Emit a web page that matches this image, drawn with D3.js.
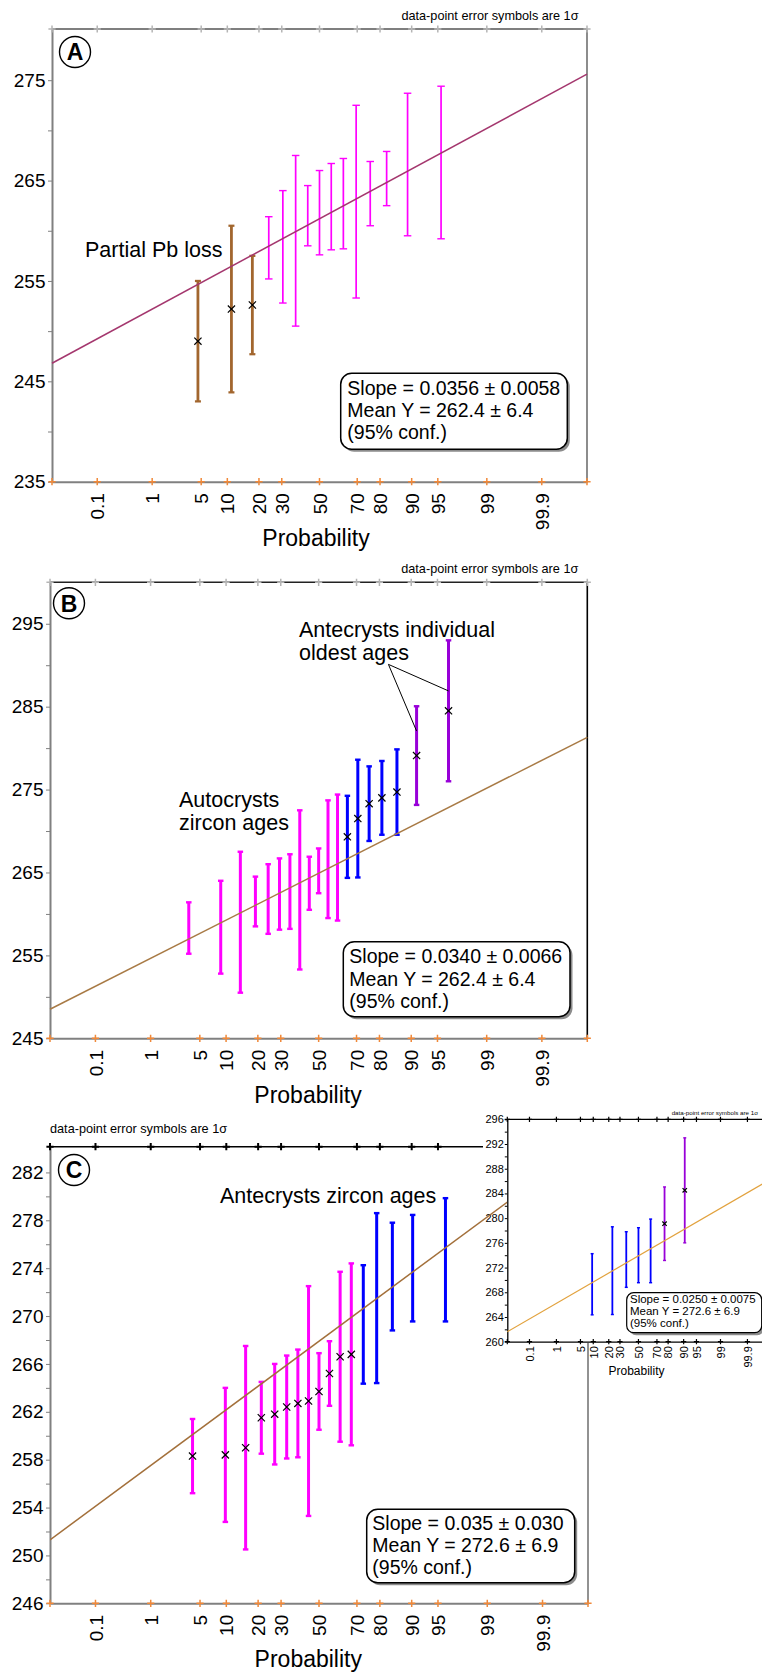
<!DOCTYPE html>
<html>
<head>
<meta charset="utf-8">
<script src="https://cdn.jsdelivr.net/npm/d3@7"></script>
<style>
  body { margin: 0; background: #fff; }
  svg { display: block; font-family: "Liberation Sans", Arial, Helvetica, sans-serif; }
</style>
</head>
<body>
<svg id="chart" width="762" height="1673"></svg>
<script>
// probability axis (%), ticks and plotted extent
const probTicks = [0.1, 1, 5, 10, 20, 30, 50, 70, 80, 90, 95, 99, 99.9];
const probEnds = [0.01, 99.99];

// zircon ages (Ma) with 1 sigma errors
const pbLossAge = [249.0, 252.2, 252.6];
const pbLossErr = [6.0, 8.3, 4.9];
const autoAge = [258.3, 258.4, 259.0, 261.5, 261.8, 262.4, 262.7, 262.9, 263.7, 265.2, 266.6, 266.8];
const autoErr = [3.1, 5.6, 8.5, 3.0, 4.2, 4.3, 4.5, 9.6, 3.2, 2.7, 7.1, 7.6];
const anteAge = [269.3, 271.5, 273.3, 274.0, 274.7];
const anteErr = [4.95, 7.1, 4.5, 4.45, 5.15];
const oldAge = [279.1, 284.5];
const oldErr = [5.95, 8.5];

// cumulative probability plotting positions (%)
const probA = [4.55, 11.04, 17.53, 24.03, 30.52, 37.01, 43.51, 50.0, 56.49, 62.99, 69.48, 75.97, 82.47, 88.96, 95.45];
const probB = [3.61, 8.76, 13.92, 19.07, 24.23, 29.38, 34.54, 39.69, 44.85, 50.0, 55.15, 60.31, 65.46, 70.62, 75.77, 80.93, 86.08, 91.24, 96.39];
const probC = [4.02, 9.77, 15.52, 21.26, 27.01, 32.76, 38.51, 44.25, 50.0, 55.75, 61.49, 67.24, 72.99, 78.74, 84.48, 90.23, 95.98];
const probInset = [9.46, 22.97, 36.49, 50.0, 63.51, 77.03, 90.54];

// regression line ages at the 0.01% and 99.99% ends
const fitA = [246.8, 275.6];
const fitB = [248.5, 281.3];
const fitC = [251.3, 284.5];
const fitInset = [261.6, 286.2];

const statsA = ["Slope = 0.0356 \u00b1 0.0058", "Mean Y = 262.4 \u00b1 6.4", "(95% conf.)"];
const statsB = ["Slope = 0.0340 \u00b1 0.0066", "Mean Y = 262.4 \u00b1 6.4", "(95% conf.)"];
const statsC = ["Slope = 0.035 \u00b1 0.030", "Mean Y = 272.6 \u00b1 6.9", "(95% conf.)"];
const statsInset = ["Slope = 0.0250 \u00b1 0.0075", "Mean Y = 272.6 \u00b1 6.9", "(95% conf.)"];

const MAGENTA = "#ff00ff", BLUE = "#0000ff", PURPLE = "#9800d8", BROWN = "#a2662e";
const NOTE = "data-point error symbols are 1\u03c3";

// inverse normal CDF (Acklam)
function probit(p) {
  const a = [-3.969683028665376e+01, 2.209460984245205e+02, -2.759285104469687e+02, 1.383577518672690e+02, -3.066479806614716e+01, 2.506628277459239e+00];
  const b = [-5.447609879822406e+01, 1.615858368580409e+02, -1.556989798598866e+02, 6.680131188771972e+01, -1.328068155288572e+01];
  const c = [-7.784894002430293e-03, -3.223964580411365e-01, -2.400758277161838e+00, -2.549671033425953e+00, 4.374664141464968e+00, 2.938163982698783e+00];
  const d = [7.784695709041462e-03, 3.224671290700398e-01, 2.445134137142996e+00, 3.754408661907416e+00];
  const plow = 0.02425;
  let q, r;
  if (p < plow) {
    q = Math.sqrt(-2 * Math.log(p));
    return (((((c[0] * q + c[1]) * q + c[2]) * q + c[3]) * q + c[4]) * q + c[5]) /
      ((((d[0] * q + d[1]) * q + d[2]) * q + d[3]) * q + 1);
  }
  if (p > 1 - plow) return -probit(1 - p);
  q = p - 0.5; r = q * q;
  return (((((a[0] * r + a[1]) * r + a[2]) * r + a[3]) * r + a[4]) * r + a[5]) * q /
    (((((b[0] * r + b[1]) * r + b[2]) * r + b[3]) * r + b[4]) * r + 1);
}

const svg = d3.select("#chart");

function cross(g, cx, cy, r, color, w) {
  g.append("path")
    .attr("d", `M${cx - r},${cy}H${cx + r}M${cx},${cy - r}V${cy + r}`)
    .attr("stroke", color)
    .attr("stroke-width", w)
    .attr("fill", "none");
}

function panel(o) {
  const g = svg.append("g");
  const x = d3.scaleLinear().domain(probEnds.map(p => probit(p / 100))).range([o.left, o.right]);
  const px = p => x(probit(p / 100));
  const y = d3.scaleLinear().domain(o.yDomain).range([o.bottom, o.top]);
  const topEnd = o.topEnd || o.right;

  // right and top frame
  g.append("line")
    .attr("x1", o.right).attr("x2", o.right).attr("y1", o.top).attr("y2", o.bottom)
    .attr("stroke", o.rightColor).attr("stroke-width", o.frameWidth);
  g.append("line")
    .attr("x1", o.left).attr("x2", topEnd).attr("y1", o.top).attr("y2", o.top)
    .attr("stroke", o.topColor).attr("stroke-width", o.frameWidth);

  // y axis
  const ya = g.append("g").attr("transform", `translate(${o.left},0)`)
    .call(d3.axisLeft(y).tickValues(o.yMajor).tickSize(o.tick).tickPadding(o.pad).tickSizeOuter(0).tickFormat(d3.format("d")));
  ya.attr("font-family", null).attr("font-size", o.fs);
  ya.select(".domain").attr("stroke", o.axisColor).attr("stroke-width", o.axisWidth);
  ya.selectAll(".tick line").attr("stroke", o.axisColor);
  ya.selectAll(".tick text").attr("fill", "#000");
  const ym = g.append("g").attr("transform", `translate(${o.left},0)`)
    .call(d3.axisLeft(y).tickValues(o.yMinor).tickSize(o.tick).tickFormat(""));
  ym.select(".domain").remove();
  ym.selectAll(".tick line").attr("stroke", o.axisColor);

  // x axis with rotated probability labels
  const xa = g.append("g").attr("transform", `translate(0,${o.bottom})`)
    .call(d3.axisBottom(x).tickValues(probTicks.map(p => probit(p / 100)))
      .tickFormat((d, i) => probTicks[i]).tickSize(0).tickSizeOuter(0));
  xa.attr("font-family", null).attr("font-size", o.fs);
  xa.select(".domain").attr("stroke", o.axisColor).attr("stroke-width", o.axisWidth);
  xa.selectAll(".tick text")
    .attr("transform", "rotate(-90)")
    .attr("x", -o.xGap).attr("y", 0).attr("dy", "0.35em")
    .attr("text-anchor", "end").attr("fill", "#000");

  const crossP = [probEnds[0], ...probTicks, probEnds[1]];
  crossP.forEach(p => cross(g, px(p), o.bottom, o.crossR, o.bottomTickColor, o.crossW));
  crossP.filter(p => px(p) <= topEnd + 1)
    .forEach(p => cross(g, px(p), o.top, o.crossR, o.topTickColor, o.topCrossW || o.crossW));

  g.append("text")
    .attr("x", o.labelX).attr("y", o.labelY)
    .attr("text-anchor", "middle").attr("font-size", o.labelSize)
    .text("Probability");

  // error bars
  const rows = [];
  let k = 0;
  o.groups.forEach(gr => {
    gr.age.forEach((a, i) => {
      rows.push({ p: o.probs[k++], age: a, err: gr.err[i], color: gr.color, mark: gr.mark, w: gr.w, cap: gr.cap });
    });
  });
  const bars = g.append("g").selectAll("g").data(rows).join("g");
  bars.append("line")
    .attr("x1", d => px(d.p)).attr("x2", d => px(d.p))
    .attr("y1", d => y(d.age - d.err)).attr("y2", d => y(d.age + d.err))
    .attr("stroke", d => d.color).attr("stroke-width", d => d.w);
  [-1, 1].forEach(s => {
    bars.append("line")
      .attr("x1", d => px(d.p) - d.cap / 2).attr("x2", d => px(d.p) + d.cap / 2)
      .attr("y1", d => y(d.age + s * d.err)).attr("y2", d => y(d.age + s * d.err))
      .attr("stroke", d => d.color).attr("stroke-width", d => Math.max(1.4, d.w * 0.8));
  });
  bars.filter(d => d.mark).append("path")
    .attr("d", d => {
      const cx = px(d.p), cy = y(d.age), r = o.markR;
      return `M${cx - r},${cy - r}L${cx + r},${cy + r}M${cx - r},${cy + r}L${cx + r},${cy - r}`;
    })
    .attr("stroke", "#000").attr("stroke-width", o.markW).attr("fill", "none");

  // regression line
  const fitLine = gg => gg.append("path")
    .attr("d", d3.line()(probEnds.map((p, i) => [px(p), y(o.fit[i])])))
    .attr("stroke", o.fitColor).attr("stroke-width", o.fitWidth).attr("fill", "none");
  if (!o.fitLater) fitLine(g);

  // statistics box
  const sb = o.stats;
  const box = g.append("g");
  box.append("rect")
    .attr("x", sb.x + 2.5).attr("y", sb.y + 2.5).attr("width", sb.w).attr("height", sb.h)
    .attr("rx", sb.r).attr("fill", "#8c8c8c");
  box.append("rect")
    .attr("x", sb.x).attr("y", sb.y).attr("width", sb.w).attr("height", sb.h)
    .attr("rx", sb.r).attr("fill", "#fff").attr("stroke", "#000").attr("stroke-width", sb.sw);
  box.selectAll("text").data(sb.lines).join("text")
    .attr("x", sb.tx).attr("y", (d, i) => sb.ty + i * sb.dy)
    .attr("font-size", sb.fs).text(d => d);

  // panel letter
  if (o.letter) {
    const L = o.letter;
    g.append("circle").attr("cx", L.x).attr("cy", L.y).attr("r", 15.5)
      .attr("fill", "#fff").attr("stroke", "#000").attr("stroke-width", 1.4);
    g.append("text").attr("x", L.x).attr("y", L.y).attr("dy", "0.36em")
      .attr("text-anchor", "middle").attr("font-size", 23).attr("font-weight", "bold")
      .text(L.t);
  }

  // note on error symbols
  g.append("text")
    .attr("x", o.note.x).attr("y", o.note.y)
    .attr("text-anchor", o.note.anchor).attr("font-size", o.note.fs)
    .text(NOTE);

  (o.notes || []).forEach(n => {
    g.append("text").selectAll("tspan").data(n.lines).join("tspan")
      .attr("x", n.x).attr("y", (d, i) => n.y + i * 22.8)
      .attr("font-size", 21.5).text(d => d);
  });

  return { g, x, px, y, fitLine };
}

const bigAxes = {
  fs: 19, tick: 4, pad: 2.5, xGap: 11.5, axisColor: "#808080", axisWidth: 2,
  bottomTickColor: "#f0893a", crossR: 3.6, crossW: 1.5, frameWidth: 1.6,
  markR: 3.6, markW: 1.2, labelSize: 23, fitWidth: 1.5
};

// panel A
panel(Object.assign({}, bigAxes, {
  left: 52, right: 587, top: 29, bottom: 481.7,
  yDomain: [235, 280.1], yMajor: [235, 245, 255, 265, 275], yMinor: [240, 250, 260, 270],
  topColor: "#555", topTickColor: "#b5b5b5", rightColor: "#707070",
  probs: probA,
  groups: [
    { age: pbLossAge, err: pbLossErr, color: BROWN, mark: true, w: 2.8, cap: 6 },
    { age: autoAge, err: autoErr, color: MAGENTA, mark: false, w: 1.7, cap: 7.5 }
  ],
  fit: fitA, fitColor: "#a4376e",
  labelX: 316, labelY: 546,
  stats: { x: 340.7, y: 373.3, w: 226.6, h: 76, r: 11, sw: 1.5, tx: 347.3, ty: 395, dy: 22.2, fs: 19.5, lines: statsA },
  letter: { x: 75, y: 52, t: "A" },
  note: { x: 578.5, y: 20, anchor: "end", fs: 12.7 },
  notes: [{ x: 85, y: 257, lines: ["Partial Pb loss"] }]
}));

// panel B
const pB = panel(Object.assign({}, bigAxes, {
  left: 50, right: 587.3, top: 582.3, bottom: 1038.3,
  yDomain: [245, 300], yMajor: [245, 255, 265, 275, 285, 295], yMinor: [250, 260, 270, 280, 290],
  topColor: "#222", topTickColor: "#b5b5b5", rightColor: "#000",
  probs: probB,
  groups: [
    { age: autoAge, err: autoErr, color: MAGENTA, mark: false, w: 3, cap: 5.5 },
    { age: anteAge, err: anteErr, color: BLUE, mark: true, w: 3, cap: 5.5 },
    { age: oldAge, err: oldErr, color: PURPLE, mark: true, w: 3, cap: 5.5 }
  ],
  fit: fitB, fitColor: "#a87a45",
  labelX: 308, labelY: 1103.3,
  stats: { x: 343.3, y: 941.7, w: 226.7, h: 75, r: 11, sw: 1.5, tx: 349.3, ty: 963.3, dy: 22.2, fs: 19.5, lines: statsB },
  letter: { x: 69, y: 603.3, t: "B" },
  note: { x: 578.3, y: 572.5, anchor: "end", fs: 12.7 },
  notes: [
    { x: 299, y: 636.7, lines: ["Antecrysts individual", "oldest ages"] },
    { x: 179, y: 806.7, lines: ["Autocrysts", "zircon ages"] }
  ]
}));

// leader lines from the antecryst note to the two oldest grains
const leaderFrom = [83.3, 290.1];
const leaderTo = [[91.24, 282.06], [96.39, 286.9]];
leaderTo.forEach(t => {
  pB.g.append("line")
    .attr("x1", pB.px(leaderFrom[0])).attr("y1", pB.y(leaderFrom[1]))
    .attr("x2", pB.px(t[0])).attr("y2", pB.y(t[1]))
    .attr("stroke", "#000").attr("stroke-width", 1);
});

// panel C
const pC = panel(Object.assign({}, bigAxes, {
  left: 50, right: 588, top: 1146.7, bottom: 1603.3, topEnd: 483,
  yDomain: [246, 284.15], yMajor: d3.range(246, 283, 4), yMinor: d3.range(248, 281, 4),
  topColor: "#000", topTickColor: "#000", topCrossW: 2, rightColor: "#777",
  probs: probC,
  groups: [
    { age: autoAge, err: autoErr, color: MAGENTA, mark: true, w: 3, cap: 5.5 },
    { age: anteAge, err: anteErr, color: BLUE, mark: false, w: 3, cap: 5.5 }
  ],
  fit: fitC, fitColor: "#a3703b", fitLater: true,
  labelX: 308.3, labelY: 1667.3,
  stats: { x: 366.7, y: 1509.3, w: 208, h: 73.4, r: 11, sw: 1.5, tx: 372.3, ty: 1530, dy: 22.2, fs: 19.5, lines: statsC },
  letter: { x: 74, y: 1170, t: "C" },
  note: { x: 50, y: 1133, anchor: "start", fs: 12.7 },
  notes: [{ x: 220, y: 1203.3, lines: ["Antecrysts zircon ages"] }]
}));

// inset background
svg.append("rect")
  .attr("x", 483).attr("y", 1106).attr("width", 290).attr("height", 237)
  .attr("fill", "#fff");

// inset: antecrysts only
panel({
  fs: 11, tick: 2.5, pad: 1, xGap: 4.5, axisColor: "#000", axisWidth: 1.3,
  bottomTickColor: "#000", crossR: 2.6, crossW: 1.2, frameWidth: 1.3,
  markR: 2.2, markW: 1.2, labelSize: 12, fitWidth: 1.2,
  left: 507.3, right: 769.6, top: 1119.3, bottom: 1341.7,
  yDomain: [260, 296], yMajor: d3.range(260, 297, 4), yMinor: d3.range(262, 295, 4),
  topColor: "#000", topTickColor: "#000", rightColor: "#000",
  probs: probInset,
  groups: [
    { age: anteAge, err: anteErr, color: BLUE, mark: false, w: 1.8, cap: 3 },
    { age: oldAge, err: oldErr, color: PURPLE, mark: true, w: 1.8, cap: 3 }
  ],
  fit: fitInset, fitColor: "#e2a23e",
  labelX: 636.5, labelY: 1375,
  stats: { x: 626.7, y: 1292.7, w: 135, h: 40, r: 7, sw: 1.2, tx: 630, ty: 1303.3, dy: 12, fs: 11.5, lines: statsInset },
  note: { x: 758, y: 1114.5, anchor: "end", fs: 6.2 }
});

// panel C regression line, running up to the inset axis
const clipC = svg.append("clipPath").attr("id", "clipC");
clipC.append("rect").attr("x", 50).attr("y", 1146.7).attr("width", 457).attr("height", 456.6);
pC.fitLine(svg.append("g").attr("clip-path", "url(#clipC)"));
</script>
</body>
</html>
